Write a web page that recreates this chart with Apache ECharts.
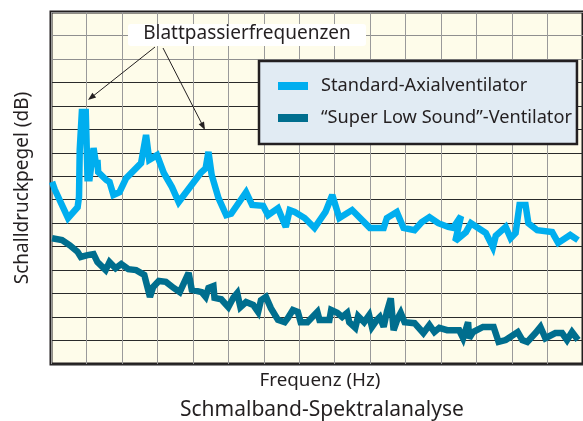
<!DOCTYPE html>
<html>
<head>
<meta charset="utf-8">
<script src="https://cdn.jsdelivr.net/npm/echarts@6/dist/echarts.min.js"></script>
<style>
html,body{margin:0;padding:0;background:#ffffff;}
#chart{width:583px;height:421px;}
</style>
</head>
<body>
<div id="chart"></div>
<script>
// Series names
var seriesNames = ['Standard-Axialventilator', '\u201CSuper Low Sound\u201D-Ventilator'];

// Standard-Axialventilator: frequency (Hz, relative) and level (dB, relative)
var stdFreq = [3, 11, 48, 75, 79, 81, 87, 98, 103, 109, 120, 128, 131, 133, 156, 165, 176, 193, 212, 254, 268, 277, 299, 318, 341, 360,
  422, 436, 444, 453, 472, 494, 508, 550, 567, 598, 612, 640, 662, 673, 687, 715, 743, 774, 793, 813, 849, 899, 938, 947, 975, 994,
  1025, 1045, 1067, 1092, 1120, 1134, 1156, 1140, 1170, 1184, 1226, 1246, 1254, 1282, 1296, 1310, 1321, 1338, 1346, 1371, 1413, 1430, 1464, 1486];
var stdLevel = [38.8, 37.1, 31.1, 33.4, 35.6, 45.6, 53.7, 53.7, 39.6, 39.6, 46.0, 42.0, 43.5, 40.9, 39.2, 38.8, 36.0, 36.6, 39.6, 42.8, 48.8, 43.5, 44.5, 40.7, 37.7, 34.5,
  40.7, 41.7, 45.2, 40.3, 35.4, 31.7, 32.0, 36.6, 33.9, 33.7, 31.7, 33.2, 29.2, 32.8, 32.4, 31.1, 29.0, 32.4, 36.0, 31.1, 32.8, 29.0, 29.0, 31.1, 32.4, 29.0,
  28.5, 30.2, 31.3, 30.0, 29.2, 29.0, 31.5, 26.2, 28.1, 30.0, 27.9, 24.9, 27.3, 29.2, 26.8, 27.9, 33.9, 33.9, 30.0, 28.5, 28.1, 25.8, 27.5, 26.4];

// "Super Low Sound"-Ventilator
var slsFreq = [3, 31, 53, 75, 84, 103, 120, 131, 154, 165, 182, 198, 218, 240, 263, 279, 288, 304, 324, 346, 363, 388, 397, 425, 436, 444, 458, 461, 480,
  500, 514, 525, 534, 550, 570, 584, 592, 606, 620, 640, 659, 668, 682, 696, 704, 723, 737, 751, 757, 785, 790, 807, 821, 835, 841, 858, 866, 883,
  897, 905, 919, 927, 938, 947, 958, 966, 978, 986, 997, 1025, 1050, 1067, 1081, 1095, 1117, 1151, 1162, 1176, 1179, 1190, 1218, 1248, 1262, 1282,
  1316, 1329, 1343, 1366, 1380, 1394, 1422, 1441, 1455, 1469, 1486];
var slsLevel = [26.8, 26.4, 25.3, 23.9, 22.8, 23.2, 23.4, 21.7, 20.0, 21.7, 20.4, 21.3, 20.2, 20.0, 19.0, 14.3, 16.4, 17.7, 17.5, 16.2, 15.3, 19.4, 15.8, 15.3, 14.3, 16.2, 16.6, 14.1, 13.8,
  12.1, 14.1, 15.1, 12.1, 13.2, 12.6, 11.1, 13.6, 14.3, 11.9, 9.4, 8.9, 9.8, 11.5, 11.1, 8.9, 8.9, 10.0, 11.1, 9.4, 9.4, 11.5, 10.9, 10.0, 10.9, 8.9, 7.7, 10.2, 8.9,
  10.4, 7.9, 9.4, 10.0, 7.9, 11.1, 14.0, 7.2, 9.8, 10.9, 8.9, 8.7, 6.6, 8.3, 6.8, 7.7, 7.2, 7.2, 5.5, 8.9, 5.5, 6.8, 7.9, 7.9, 4.7, 5.1,
  6.8, 5.1, 4.7, 6.6, 7.9, 5.5, 6.6, 6.6, 5.1, 6.8, 5.1];

// Axis ranges and titles
var xMin = 0, xMax = 1500, xStep = 100;
var yMin = 0, yMax = 75, yStep = 5;
var xTitle = 'Frequenz (Hz)';
var yTitle = 'Schalldruckpegel (dB)';
var chartTitle = 'Schmalband-Spektralanalyse';
var annotation = 'Blattpassierfrequenzen';

function zip(a, b) { return a.map(function (v, i) { return [v, b[i]]; }); }

var FONT = 'Noto Sans';
var INK = '#231f20';
var C_STD = '#00aeef';
var C_SLS = '#006e8e';

// horizontal grid line colours (lowest first)
var hColors = [];
for (var i = 0; i <= 15; i++) hColors.push(i >= 13 ? '#8f8f8f' : '#2a2a2a');

function arrowHead(x0, y0, x1, y1, len, half) {
  var dx = x1 - x0, dy = y1 - y0, L = Math.sqrt(dx * dx + dy * dy);
  var ux = dx / L, uy = dy / L;
  var bx = x1 - len * ux, by = y1 - len * uy;
  return [[x1, y1], [bx - half * uy, by + half * ux], [bx + half * uy, by - half * ux]];
}

var chart = echarts.init(document.getElementById('chart'), null, { renderer: 'canvas' });
chart.setOption({
  backgroundColor: '#ffffff',
  animation: false,
  textStyle: { fontFamily: FONT, color: INK },
  title: {
    text: chartTitle,
    left: 180, top: 400,
    padding: 0,
    textStyle: { fontFamily: FONT, fontSize: 21, fontWeight: 'normal', color: INK }
  },
  grid: {
    left: 51, top: 12, width: 537, height: 352,
    show: true, backgroundColor: '#fefcea', borderColor: INK, borderWidth: 3
  },
  legend: {
    left: 259, top: 61,
    orient: 'vertical',
    backgroundColor: '#e1ebf3',
    borderColor: INK, borderWidth: 2.5,
    padding: [14, 5, 15, 19],
    itemWidth: 30, itemHeight: 8, itemGap: 10,
    icon: 'rect',
    textStyle: { fontFamily: FONT, fontSize: 18.2, color: INK, lineHeight: 22, padding: [0, 0, 0, 8] },
    data: seriesNames
  },
  xAxis: {
    type: 'value', min: xMin, max: xMax, interval: xStep,
    axisLine: { show: false }, axisTick: { show: false }, axisLabel: { show: false },
    splitLine: { show: true, lineStyle: { color: '#9a9a9a', width: 1 } }
  },
  yAxis: {
    type: 'value', min: yMin, max: yMax, interval: yStep,
    name: yTitle, nameLocation: 'middle', nameGap: 19,
    nameTextStyle: { fontFamily: FONT, fontSize: 19, color: INK },
    axisLine: { show: false }, axisTick: { show: false }, axisLabel: { show: false },
    splitLine: { show: true, lineStyle: { color: hColors, width: 1 } }
  },
  series: [
    {
      name: seriesNames[0], type: 'line', data: zip(stdFreq, stdLevel),
      showSymbol: false, symbol: 'none', z: 3,
      itemStyle: { color: C_STD },
      lineStyle: { color: C_STD, width: 6.5, join: 'miter', miterLimit: 3 }
    },
    {
      name: seriesNames[1], type: 'line', data: zip(slsFreq, slsLevel),
      showSymbol: false, symbol: 'none', z: 3,
      itemStyle: { color: C_SLS },
      lineStyle: { color: C_SLS, width: 6.5, join: 'miter', miterLimit: 3 }
    }
  ],
  graphic: [
    { type: 'text', x: 320, y: 381, z: 11,
      style: { text: xTitle, fill: INK, font: '18.8px "Noto Sans"', textAlign: 'center', textVerticalAlign: 'middle' } },
    { type: 'rect', shape: { x: 128, y: 24, width: 238, height: 22, r: 3 }, style: { fill: '#ffffff' }, z: 10 },
    { type: 'text', x: 247, y: 34, z: 11,
      style: { text: annotation, fill: INK, font: '19px "Noto Sans"', textAlign: 'center', textVerticalAlign: 'middle' } },
    { type: 'line', shape: { x1: 155, y1: 47, x2: 90, y2: 98.5 }, style: { stroke: INK, lineWidth: 1 }, z: 11 },
    { type: 'polygon', shape: { points: arrowHead(155, 47, 88, 100, 8, 3) }, style: { fill: INK }, z: 11 },
    { type: 'line', shape: { x1: 163, y1: 48, x2: 204, y2: 128 }, style: { stroke: INK, lineWidth: 1 }, z: 11 },
    { type: 'polygon', shape: { points: arrowHead(163, 48, 205, 130, 8, 3) }, style: { fill: INK }, z: 11 }
  ]
});
</script>
</body>
</html>
